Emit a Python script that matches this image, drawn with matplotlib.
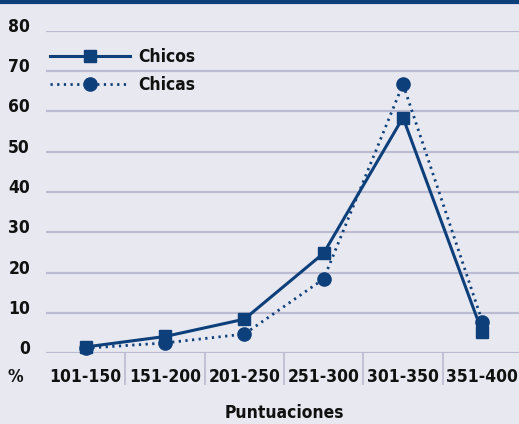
import matplotlib
matplotlib.use("Agg")
import matplotlib.pyplot as plt
import matplotlib.transforms as mtransforms
from matplotlib.lines import Line2D
from matplotlib import font_manager as fm
from matplotlib.textpath import TextToPath

categories = ["101-150", "151-200", "201-250", "251-300", "301-350", "351-400"]
chicos = [1.5, 4.1, 8.4, 24.8, 58.5, 5.1]
chicas = [1.2, 2.5, 4.7, 18.4, 66.8, 7.8]
yticks = [0, 10, 20, 30, 40, 50, 60, 70, 80]

BG = "#E8E8F0"
GRID = "#BBBBD2"
BLUE = "#0D3F7A"
TXT = "#111111"


def pick_font():
    cands = []
    for f in fm.fontManager.ttflist:
        key = (f.fname + " " + f.name).lower()
        if ("narrow" in key or "condensed" in key) and "italic" not in key and "oblique" not in key:
            cands.append(f)
    def rank(f):
        key = (f.fname + " " + f.name).lower()
        w = f.weight if isinstance(f.weight, int) else (700 if "bold" in str(f.weight) else 400)
        bold = ("bold" in key) or w >= 600
        semi = "semi" in key or "extra" in key or "ultra" in key
        return (0 if bold else 1, 1 if semi else 0, 0 if "liberation" in key else 1)
    if cands:
        cands.sort(key=rank)
        return fm.FontProperties(fname=cands[0].fname)
    return fm.FontProperties(family="Roboto", weight="bold")


prop = pick_font()
t2p = TextToPath()
probe = prop.copy()
probe.set_size(100)
w100, _, _ = t2p.get_text_width_height_descent("101-150", probe, ismath=False)
_, h100, _ = t2p.get_text_width_height_descent("0", probe, ismath=False)
size_w = 72 * 0.72 / (w100 / 100)
size_h = 18 * 0.72 / (h100 / 100)
FS = min(size_w, size_h)
prop.set_size(FS)
fs_px = FS * 100 / 72

W, H = 519, 424
fig = plt.figure(figsize=(W / 100, H / 100), dpi=100, facecolor=BG)
ax = fig.add_axes([46 / W, (H - 353) / H, 476 / W, 322 / H])
ax.set_facecolor(BG)

x = list(range(len(categories)))
ax.plot(x, chicos, color=BLUE, lw=2.2, marker="s", ms=8.5, label="Chicos",
        clip_on=False, zorder=4)
ax.plot(x, chicas, color=BLUE, lw=2.0, ls=(0, (0.8, 1.6)), marker="o", ms=9.5,
        label="Chicas", clip_on=False, zorder=3)

ax.set_xlim(-0.5, 5.5)
ax.set_ylim(0, 80)
ax.set_yticks(yticks)
ax.set_yticklabels([str(v) for v in yticks])
for v in yticks:
    ax.axhline(v, color=GRID, lw=1.6, zorder=1)

for s in ax.spines.values():
    s.set_visible(False)

ax.tick_params(axis="y", length=0, pad=11.5, labelcolor=TXT)
shift = mtransforms.ScaledTranslation(0, 6 / 100, fig.dpi_scale_trans)
for lab in ax.get_yticklabels():
    lab.set_fontproperties(prop)
    lab.set_transform(lab.get_transform() + shift)

ax.set_xticks(x)
ax.set_xticklabels(categories, color=TXT)
for lab in ax.get_xticklabels():
    lab.set_fontproperties(prop)
ax.tick_params(axis="x", which="major", length=0, pad=11)
ax.set_xticks([0.5, 1.5, 2.5, 3.5, 4.5], minor=True)
ax.tick_params(axis="x", which="minor", length=23, width=1.2, color=GRID, direction="out")

ax.set_xlabel("Puntuaciones", fontproperties=prop, color=TXT, labelpad=10)
fig.text(15 / W, 1 - 377 / H, "%", fontproperties=prop, color=TXT,
         ha="center", va="center")

leg = ax.legend(loc="upper left", bbox_to_anchor=(50 / W, 1 - 48 / H),
                bbox_transform=fig.transFigure, frameon=False, prop=prop,
                handlelength=80 / fs_px, handletextpad=8 / fs_px,
                labelspacing=max(0.05, (31 - 1.2 * fs_px) / fs_px),
                borderaxespad=0, borderpad=0)
for t in leg.get_texts():
    t.set_color(TXT)

fig.add_artist(Line2D([0, 1], [1 - 1.5 / H, 1 - 1.5 / H], transform=fig.transFigure,
                      color=BLUE, lw=3))

fig.savefig("out.png", dpi=100, facecolor=BG)
